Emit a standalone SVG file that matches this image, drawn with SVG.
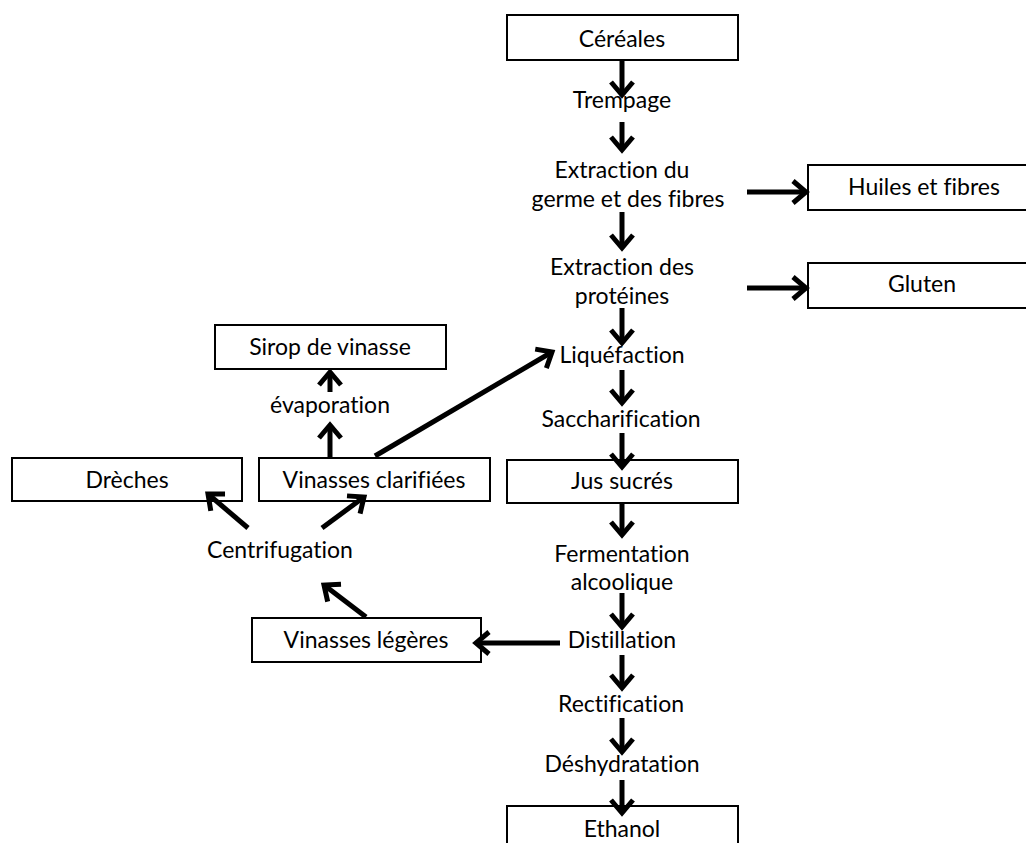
<svg xmlns="http://www.w3.org/2000/svg" width="1026" height="843" viewBox="0 0 1026 843">
  <style>
    .box { fill: #fff; stroke: #000; stroke-width: 2; }
    .lbl { font-family: Lato, "Liberation Sans", sans-serif; font-size: 23px; fill: #000; text-anchor: middle; font-variant-ligatures: none; }
    .arr { stroke: #000; stroke-width: 5; fill: none; marker-end: url(#head); }
  </style>
  <defs>
    <marker id="head" markerUnits="userSpaceOnUse" markerWidth="40" markerHeight="40" viewBox="-20 -20 40 40" refX="0" refY="0" orient="auto" overflow="visible">
      <path d="M-13,-11 L0,0 L-13,11" fill="none" stroke="#000" stroke-width="5" stroke-linejoin="miter"/>
    </marker>
  </defs>
  <rect width="1026" height="843" fill="#fff"/>

  <!-- main process column -->
  <g id="cereales"><rect class="box" x="507" y="15" width="231" height="45"/><text class="lbl" x="622" y="47">Céréales</text></g>
  <g id="trempage"><text class="lbl" x="622" y="108">Trempage</text></g>
  <g id="extraction-germe"><text class="lbl" x="622" y="178">Extraction du</text><text class="lbl" x="628" y="207">germe et des fibres</text></g>
  <g id="extraction-proteines"><text class="lbl" x="622" y="275">Extraction des</text><text class="lbl" x="622" y="304">protéines</text></g>
  <g id="liquefaction"><text class="lbl" x="622" y="363">Liquéfaction</text></g>
  <g id="saccharification"><text class="lbl" x="621" y="427">Saccharification</text></g>
  <g id="jus-sucres"><rect class="box" x="507" y="460" width="231" height="43"/><text class="lbl" x="622" y="489">Jus sucrés</text></g>
  <g id="fermentation"><text class="lbl" x="622" y="562">Fermentation</text><text class="lbl" x="622" y="590">alcoolique</text></g>
  <g id="distillation"><text class="lbl" x="622" y="648">Distillation</text></g>
  <g id="rectification"><text class="lbl" x="621" y="712">Rectification</text></g>
  <g id="deshydratation"><text class="lbl" x="622" y="772">Déshydratation</text></g>
  <g id="ethanol"><rect class="box" x="507" y="806" width="231" height="45"/><text class="lbl" x="622" y="837">Ethanol</text></g>

  <!-- side products -->
  <g id="huiles-fibres"><rect class="box" x="808" y="165" width="232" height="45"/><text class="lbl" x="924" y="195">Huiles et fibres</text></g>
  <g id="gluten"><rect class="box" x="808" y="263" width="232" height="45"/><text class="lbl" x="922" y="292">Gluten</text></g>

  <!-- vinasse treatment -->
  <g id="sirop-vinasse"><rect class="box" x="215" y="325" width="231" height="44"/><text class="lbl" x="330" y="355">Sirop de vinasse</text></g>
  <g id="evaporation"><text class="lbl" x="330" y="413">évaporation</text></g>
  <g id="dreches"><rect class="box" x="12" y="458" width="230" height="43"/><text class="lbl" x="127" y="488">Drèches</text></g>
  <g id="vinasses-clarifiees"><rect class="box" x="259" y="458" width="231" height="43"/><text class="lbl" x="374" y="488">Vinasses clarifiées</text></g>
  <g id="centrifugation"><text class="lbl" x="280" y="558">Centrifugation</text></g>
  <g id="vinasses-legeres"><rect class="box" x="252" y="618" width="229" height="44"/><text class="lbl" x="366" y="648">Vinasses légères</text></g>

  <g id="connectors">
    <line class="arr" x1="622" y1="60" x2="622" y2="95"/>
    <line class="arr" x1="622" y1="122" x2="622" y2="150"/>
    <line class="arr" x1="622" y1="212" x2="622" y2="248"/>
    <line class="arr" x1="622" y1="308" x2="622" y2="343"/>
    <line class="arr" x1="622" y1="370" x2="622" y2="403"/>
    <line class="arr" x1="622" y1="433" x2="622" y2="467"/>
    <line class="arr" x1="622" y1="503" x2="622" y2="535"/>
    <line class="arr" x1="622" y1="593" x2="622" y2="627"/>
    <line class="arr" x1="622" y1="655" x2="622" y2="688"/>
    <line class="arr" x1="622" y1="718" x2="622" y2="752"/>
    <line class="arr" x1="622" y1="780" x2="622" y2="813"/>

    <line class="arr" x1="747" y1="192" x2="806" y2="192"/>
    <line class="arr" x1="747" y1="288" x2="806" y2="288"/>

    <line class="arr" x1="560" y1="643" x2="476" y2="643"/>
    <line class="arr" x1="366" y1="617" x2="324" y2="585"/>
    <line class="arr" x1="248" y1="528" x2="208" y2="494"/>
    <line class="arr" x1="322" y1="528" x2="364" y2="497"/>
    <line class="arr" x1="330" y1="457" x2="330" y2="425"/>
    <line class="arr" x1="330" y1="392" x2="330" y2="372"/>
    <line class="arr" x1="375" y1="456" x2="552" y2="352"/>
  </g>
</svg>
